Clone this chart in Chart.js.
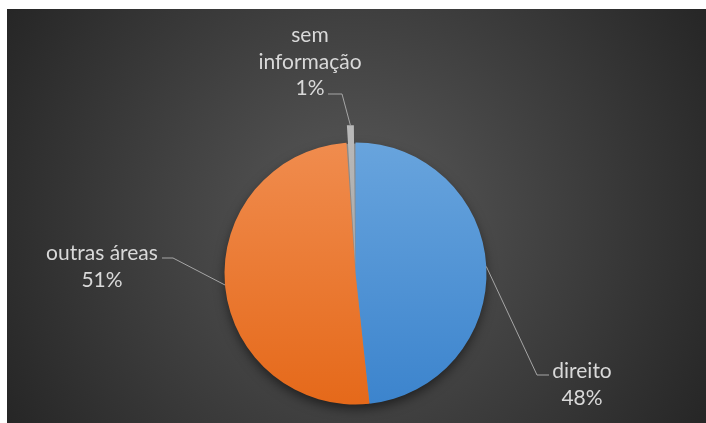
<!DOCTYPE html>
<html>
<head>
<meta charset="utf-8">
<script src="https://cdn.jsdelivr.net/npm/chart.js@4.4.1/dist/chart.umd.min.js"></script>
<style>
  html, body { margin: 0; padding: 0; background: #ffffff; }
  body { width: 706px; height: 423px; position: relative; overflow: hidden; }
  #wrap { position: absolute; left: 7px; top: 9px; width: 699px; height: 414px; }
</style>
</head>
<body>
<div id="wrap"><canvas id="c" width="699" height="414"></canvas></div>
<script>
// ---- data ----
const categories = ['direito', 'outras áreas', 'sem informação'];
const labelLines = [['direito'], ['outras áreas'], ['sem', 'informação']];
const values = [48.3, 50.6, 1.1];
const explode = [0, 0, 36];

// ---- style ----
const PIE_R = 131;
const topColors = ['#68a4dd', '#f08c4e', '#b9b9b9'];
const bottomColors = ['#3c84cd', '#e5691a', '#999999'];
const textColor = '#d9d9d9';
const lineColor = '#a6a6a6';
const FONT = '21px Lato, "Open Sans", sans-serif';
const LINE_H = 26.5;

// label layout relative to pie centre: elbow point, line end, text block centre x, first baseline y
const labelLayout = [
  { ex: 181.5, ey: 101.5, lx: 193.5, ly: 101.5, tx: 226.5, ty: 104.5 },
  { ex: -182.5, ey: -15.5, lx: -193.5, ly: -15.5, tx: -253.5, ty: -13.5 },
  { ex: -13.5, ey: -179.5, lx: -27.5, ly: -179.5, tx: -45.5, ty: -231.5 }
];

function vGrad(chart, i) {
  const area = chart.chartArea;
  if (!area) return topColors[i];
  const cy = (area.top + area.bottom) / 2;
  const g = chart.ctx.createLinearGradient(0, cy - PIE_R, 0, cy + PIE_R);
  g.addColorStop(0, topColors[i]);
  g.addColorStop(1, bottomColors[i]);
  return g;
}

const bgPlugin = {
  id: 'bg',
  beforeDraw(chart) {
    const { ctx, width, height } = chart;
    ctx.save();
    const cx = width / 2, cy = height / 2;
    const g = ctx.createRadialGradient(cx, cy, 0, cx, cy, Math.sqrt(cx * cx + cy * cy));
    g.addColorStop(0, '#595959');
    g.addColorStop(1, '#262626');
    ctx.fillStyle = g;
    ctx.fillRect(0, 0, width, height);
    ctx.restore();
  },
  beforeDatasetsDraw(chart) {
    const arc = chart.getDatasetMeta(0).data[0];
    if (!arc) return;
    const ctx = chart.ctx;
    ctx.save();
    ctx.shadowColor = 'rgba(0,0,0,0.55)';
    ctx.shadowBlur = 12;
    ctx.shadowOffsetY = 5;
    ctx.fillStyle = '#8a8a8a';
    ctx.beginPath();
    ctx.arc(arc.x, arc.y, arc.outerRadius - 1, 0, Math.PI * 2);
    ctx.fill();
    ctx.restore();
  }
};

const labelPlugin = {
  id: 'pieLabels',
  afterDatasetsDraw(chart) {
    const ctx = chart.ctx;
    const meta = chart.getDatasetMeta(0);
    const total = values.reduce((a, b) => a + b, 0);
    ctx.save();
    ctx.font = FONT;
    ctx.fillStyle = textColor;
    ctx.strokeStyle = lineColor;
    ctx.lineWidth = 1;
    meta.data.forEach((arc, i) => {
      const mid = (arc.startAngle + arc.endAngle) / 2;
      const off = (explode[i] || 0) / 4;
      const fix = 1 - Math.sin(Math.min(Math.PI, arc.circumference));
      const r = arc.outerRadius + off * fix + off;
      const px = arc.x + Math.cos(mid) * r;
      const py = arc.y + Math.sin(mid) * r;
      const L = labelLayout[i];
      ctx.beginPath();
      ctx.moveTo(px, py);
      ctx.lineTo(arc.x + L.ex, arc.y + L.ey);
      ctx.lineTo(arc.x + L.lx, arc.y + L.ly);
      ctx.stroke();
      const lines = labelLines[i].concat([Math.round(values[i] / total * 100) + '%']);
      ctx.textAlign = 'center';
      ctx.textBaseline = 'alphabetic';
      lines.forEach((t, k) => {
        ctx.fillText(t, arc.x + L.tx, arc.y + L.ty + k * LINE_H);
      });
    });
    ctx.restore();
  }
};

new Chart(document.getElementById('c'), {
  type: 'pie',
  data: {
    labels: categories,
    datasets: [{
      data: values,
      backgroundColor: (c) => vGrad(c.chart, c.dataIndex),
      borderWidth: 0,
      offset: explode
    }]
  },
  options: {
    responsive: false,
    animation: false,
    radius: PIE_R,
    layout: { padding: { left: 0, right: 2, top: 115, bottom: 0 } },
    plugins: {
      legend: { display: false },
      tooltip: { enabled: false }
    },
    events: []
  },
  plugins: [bgPlugin, labelPlugin]
});
</script>
</body>
</html>
